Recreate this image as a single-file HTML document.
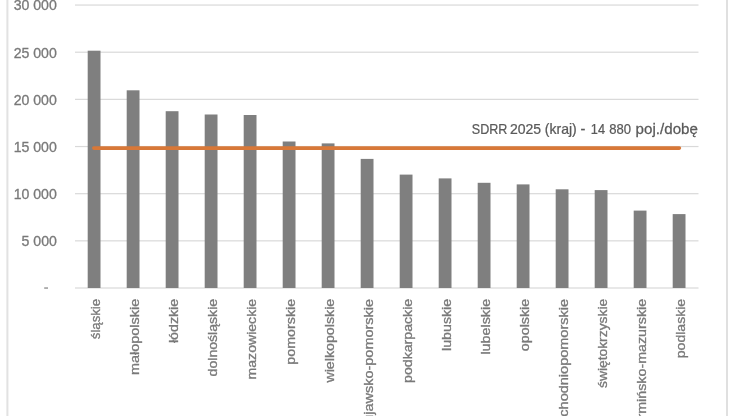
<!DOCTYPE html>
<html><head><meta charset="utf-8"><style>
html,body{margin:0;padding:0;background:#fff;width:737px;height:416px;overflow:hidden}
svg{display:block;filter:blur(0.55px)}
.t2{fill:#5a5a5a !important;stroke:#5a5a5a !important;stroke-width:0.25px !important}
.t{font-family:"Liberation Sans",sans-serif;font-size:14px;fill:#797979;stroke:#797979;stroke-width:0.32px}
</style></head><body>
<svg width="737" height="416" viewBox="0 0 737 416"><rect x="75" y="4.45" width="623.5" height="1.2" fill="#d9d9d9"/>
<rect x="75" y="51.61" width="623.5" height="1.2" fill="#d9d9d9"/>
<rect x="75" y="98.77" width="623.5" height="1.2" fill="#d9d9d9"/>
<rect x="75" y="145.93" width="623.5" height="1.2" fill="#d9d9d9"/>
<rect x="75" y="193.09" width="623.5" height="1.2" fill="#d9d9d9"/>
<rect x="75" y="240.25" width="623.5" height="1.2" fill="#d9d9d9"/>
<rect x="75" y="287.41" width="623.5" height="1.2" fill="#d9d9d9"/>
<text transform="translate(13.66,10.47) scale(0.9542,1)" class="t" style="font-size:14.8px">30 000</text>
<text transform="translate(13.66,57.63) scale(0.9542,1)" class="t" style="font-size:14.8px">25 000</text>
<text transform="translate(13.66,104.79) scale(0.9542,1)" class="t" style="font-size:14.8px">20 000</text>
<text transform="translate(13.66,151.95) scale(0.9542,1)" class="t" style="font-size:14.8px">15 000</text>
<text transform="translate(13.66,199.11) scale(0.9542,1)" class="t" style="font-size:14.8px">10 000</text>
<text transform="translate(21.52,246.27) scale(0.9542,1)" class="t" style="font-size:14.8px">5 000</text>
<rect x="44.2" y="287.40" width="3.8" height="1.3" fill="#8a8a8a"/>
<rect x="87.70" y="50.7" width="12.8" height="237.30" fill="#7f7f7f"/>
<rect x="126.70" y="90.3" width="12.8" height="197.70" fill="#7f7f7f"/>
<rect x="165.70" y="111.2" width="12.8" height="176.80" fill="#7f7f7f"/>
<rect x="204.70" y="114.5" width="12.8" height="173.50" fill="#7f7f7f"/>
<rect x="243.70" y="115" width="12.8" height="173.00" fill="#7f7f7f"/>
<rect x="282.70" y="141.5" width="12.8" height="146.50" fill="#7f7f7f"/>
<rect x="321.70" y="143.4" width="12.8" height="144.60" fill="#7f7f7f"/>
<rect x="360.70" y="158.9" width="12.8" height="129.10" fill="#7f7f7f"/>
<rect x="399.70" y="174.6" width="12.8" height="113.40" fill="#7f7f7f"/>
<rect x="438.70" y="178.4" width="12.8" height="109.60" fill="#7f7f7f"/>
<rect x="477.70" y="182.8" width="12.8" height="105.20" fill="#7f7f7f"/>
<rect x="516.70" y="184.4" width="12.8" height="103.60" fill="#7f7f7f"/>
<rect x="555.70" y="189.3" width="12.8" height="98.70" fill="#7f7f7f"/>
<rect x="594.70" y="190.1" width="12.8" height="97.90" fill="#7f7f7f"/>
<rect x="633.70" y="210.6" width="12.8" height="77.40" fill="#7f7f7f"/>
<rect x="672.70" y="214.1" width="12.8" height="73.90" fill="#7f7f7f"/>
<line x1="93.8" y1="148.1" x2="679.4" y2="148.1" stroke="#d87838" stroke-width="3.6" stroke-linecap="round"/>
<text transform="translate(471.82,134.45) scale(0.8968,1)" class="t t2" style="font-size:14px">SDRR</text>
<text transform="translate(509.90,134.45) scale(1.0017,1)" class="t t2" style="font-size:14px">2025</text>
<text transform="translate(544.83,134.45) scale(1.0019,1)" class="t t2" style="font-size:14px">(kraj)</text>
<text transform="translate(580.55,134.45) scale(1.0496,1)" class="t t2" style="font-size:14px">-</text>
<text transform="translate(590.83,134.45) scale(0.9150,1)" class="t t2" style="font-size:14px">14</text>
<text transform="translate(609.24,134.45) scale(0.9323,1)" class="t t2" style="font-size:14px">880</text>
<text transform="translate(635.62,134.45) scale(1.0823,1)" class="t t2" style="font-size:14px">poj./dobę</text>
<g transform="translate(99.70,0) rotate(-90)"><text transform="translate(-339.17,0.00) scale(0.9924,1)" class="t" style="font-size:13.3px">śląskie</text></g>
<g transform="translate(138.70,0) rotate(-90)"><text transform="translate(-375.05,0.00) scale(1.0864,1)" class="t" style="font-size:13.3px">małopolskie</text></g>
<g transform="translate(177.70,0) rotate(-90)"><text transform="translate(-343.11,0.00) scale(1.0710,1)" class="t" style="font-size:13.3px">łódzkie</text></g>
<g transform="translate(216.70,0) rotate(-90)"><text transform="translate(-376.39,0.00) scale(1.0604,1)" class="t" style="font-size:13.3px">dolnośląskie</text></g>
<g transform="translate(255.70,0) rotate(-90)"><text transform="translate(-379.43,0.00) scale(1.0594,1)" class="t" style="font-size:13.3px">mazowieckie</text></g>
<g transform="translate(294.70,0) rotate(-90)"><text transform="translate(-364.63,0.00) scale(1.0734,1)" class="t" style="font-size:13.3px">pomorskie</text></g>
<g transform="translate(333.70,0) rotate(-90)"><text transform="translate(-382.59,0.00) scale(1.0697,1)" class="t" style="font-size:13.3px">wielkopolskie</text></g>
<g transform="translate(372.70,0) rotate(-90)"><text transform="translate(-430.07,0.00) scale(1.0898,1)" class="t" style="font-size:13.3px">kujawsko-pomorskie</text></g>
<g transform="translate(411.70,0) rotate(-90)"><text transform="translate(-382.92,0.00) scale(1.0636,1)" class="t" style="font-size:13.3px">podkarpackie</text></g>
<g transform="translate(450.70,0) rotate(-90)"><text transform="translate(-350.95,0.00) scale(1.0693,1)" class="t" style="font-size:13.3px">lubuskie</text></g>
<g transform="translate(489.70,0) rotate(-90)"><text transform="translate(-354.56,0.00) scale(1.0781,1)" class="t" style="font-size:13.3px">lubelskie</text></g>
<g transform="translate(528.70,0) rotate(-90)"><text transform="translate(-351.20,0.00) scale(1.0744,1)" class="t" style="font-size:13.3px">opolskie</text></g>
<g transform="translate(567.70,0) rotate(-90)"><text transform="translate(-431.97,0.00) scale(1.0920,1)" class="t" style="font-size:13.3px">zachodniopomorskie</text></g>
<g transform="translate(606.70,0) rotate(-90)"><text transform="translate(-387.99,0.00) scale(1.0404,1)" class="t" style="font-size:13.3px">świętokrzyskie</text></g>
<g transform="translate(645.70,0) rotate(-90)"><text transform="translate(-436.73,0.00) scale(1.0729,1)" class="t" style="font-size:13.3px">warmińsko-mazurskie</text></g>
<g transform="translate(684.70,0) rotate(-90)"><text transform="translate(-358.21,0.00) scale(1.0577,1)" class="t" style="font-size:13.3px">podlaskie</text></g>
<rect x="6.4" y="-5" width="2" height="430" fill="#e2e2e2"/>
<rect x="726" y="-5" width="2" height="430" fill="#e0e0e0"/></svg>
</body></html>
